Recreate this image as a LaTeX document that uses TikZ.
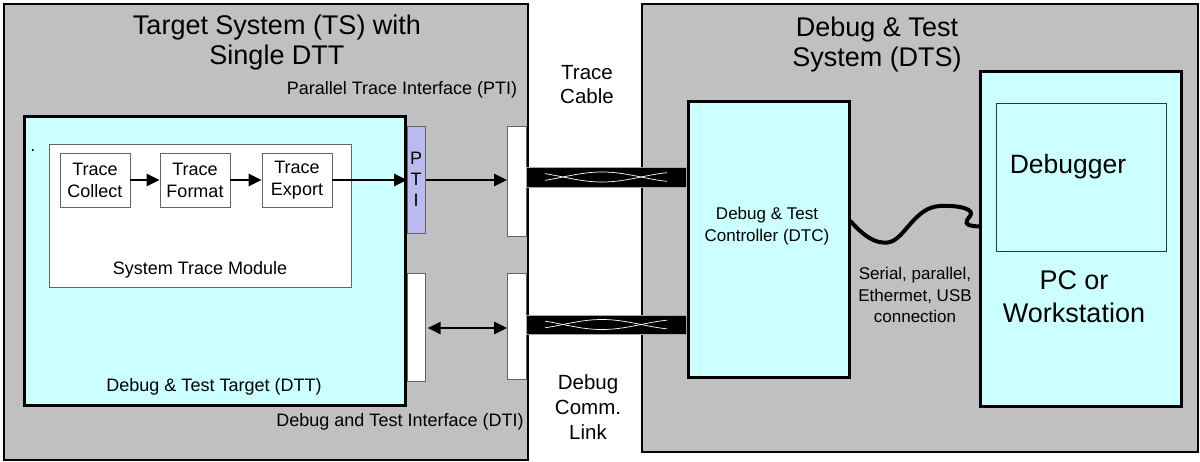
\documentclass[tikz,border=0pt]{standalone}
\usepackage{fontspec}
\setmainfont{Liberation Sans}
\usetikzlibrary{arrows.meta}
\definecolor{bggray}{RGB}{192,192,192}
\definecolor{lcyan}{RGB}{204,255,255}
\definecolor{lav}{RGB}{186,186,240}
\definecolor{edgegray}{RGB}{100,100,100}
\begin{document}
\begin{tikzpicture}[x=1pt,y=-1pt,
  box/.style={draw, inner sep=0pt, anchor=north west},
  bigbox/.style={box, line width=2pt},
  thickbox/.style={box, line width=2.8pt, fill=lcyan},
  thinbox/.style={draw=edgegray, line width=0.9pt, inner sep=0pt},
  lbl/.style={inner sep=0pt, align=center},
  arr/.style={line width=2.8pt, -{Triangle[length=13pt,width=12pt]}},
  darr/.style={line width=2.8pt, {Triangle[length=13pt,width=12pt]}-{Triangle[length=13pt,width=12pt]}},
  twist/.style={white, line width=0.7pt}
]
\useasboundingbox (0,0) rectangle (1200,461);
\fill[white] (0,0) rectangle (1200,461);

% outer systems
\node[bigbox, fill=bggray, minimum width=524pt, minimum height=456pt] (ts) at (3,3) {};
\node[bigbox, fill=bggray, minimum width=556pt, minimum height=448pt] (dts) at (641,3) {};

% titles
\node[lbl, font=\fontsize{27}{30}\selectfont] (tstitle) at (277,43) {Target System (TS) with\\Single DTT};
\node[lbl, font=\fontsize{27}{30}\selectfont] (dtstitle) at (877,45) {Debug \& Test\\System (DTS)};

% DTT
\node[thickbox, minimum width=381pt, minimum height=289pt] (dtt) at (23,115) {};
\node[box, fill=white, draw=edgegray, line width=0.9pt, minimum width=302pt, minimum height=143pt] (stm) at (49,144) {};
\node[lbl, font=\fontsize{18}{20}\selectfont] (stmlbl) at (200,270) {System Trace Module};
\node[lbl, font=\fontsize{18}{20}\selectfont] (dttlbl) at (214,387) {Debug \& Test Target (DTT)};
\node[lbl, font=\fontsize{18}{20}\selectfont] (dot) at (33,151) {.};

\node[thinbox, fill=white, minimum width=70pt, minimum height=54pt, align=center, font=\fontsize{18}{22}\selectfont] (tc) at (95,180) {Trace\\Collect};
\node[thinbox, fill=white, minimum width=70pt, minimum height=54pt, align=center, font=\fontsize{18}{22}\selectfont] (tf) at (195,180) {Trace\\Format};
\node[thinbox, fill=white, minimum width=70pt, minimum height=54pt, align=center, font=\fontsize{18}{22}\selectfont] (te) at (297,180) {Trace\\Export};

% interfaces
\node[box, fill=lav, draw=edgegray, line width=0.6pt, minimum width=18pt, minimum height=107pt] (pti) at (407,126) {};
\node[lbl, font=\fontsize{18}{21}\selectfont] (ptitxt) at (416,179) {P\\T\\I};
\node[box, fill=white, draw=edgegray, line width=0.6pt, minimum width=18pt, minimum height=108pt] (dti) at (407,273) {};
\node[box, fill=white, draw=edgegray, line width=0.6pt, minimum width=19pt, minimum height=110pt] (con1) at (507,126) {};
\node[box, fill=white, draw=edgegray, line width=0.6pt, minimum width=19pt, minimum height=106pt] (con2) at (507,273) {};

\node[lbl, font=\fontsize{18}{20}\selectfont] (ptilbl) at (402,90) {Parallel Trace Interface (PTI)};
\node[lbl, font=\fontsize{18}{20}\selectfont] (dtilbl) at (400,422) {Debug and Test Interface (DTI)};

% arrows inside
\draw[arr] (tc.east) -- (tf.west);
\draw[arr] (tf.east) -- (te.west);
\draw[arr] (te.east) -- (te.east -| pti.west);
\draw[arr] (pti.east |- te.east) -- (con1.west |- te.east);
\draw[darr] ([xshift=2pt]dti.east |- 0,328) -- (con2.west |- 0,328);

% cables
\node[box, fill=black, draw=gray!70, line width=0.5pt, minimum width=160pt, minimum height=20pt] (cab1) at (526,167) {};
\node[box, fill=black, draw=gray!70, line width=0.5pt, minimum width=160pt, minimum height=19pt] (cab2) at (526,315) {};
\draw[twist] plot[domain=545:667, samples=60] (\x, {177+5*sin((\x-563)/78*180)});
\draw[twist] plot[domain=545:667, samples=60] (\x, {177-5*sin((\x-563)/78*180)});
\draw[twist] plot[domain=545:667, samples=60] (\x, {324.5+5*sin((\x-563)/78*180)});
\draw[twist] plot[domain=545:667, samples=60] (\x, {324.5-5*sin((\x-563)/78*180)});

\node[lbl, font=\fontsize{20.5}{24}\selectfont] (cablelbl) at (587,85) {Trace\\Cable};
\node[lbl, font=\fontsize{20.5}{25}\selectfont] (linklbl) at (588,407) {Debug\\Comm.\\Link};

% DTS contents
\node[thickbox, minimum width=161pt, minimum height=276pt] (dtc) at (687,100) {};
\node[lbl, font=\fontsize{17}{22}\selectfont] (dtctxt) at (767,226) {Debug \& Test\\Controller (DTC)};
\node[thickbox, minimum width=201pt, minimum height=335pt] (pc) at (979,70) {};
\node[box, fill=lcyan, draw=black!80, line width=0.9pt, minimum width=170pt, minimum height=148pt] (dbg) at (996,103) {};
\node[lbl, font=\fontsize{26.5}{30}\selectfont] (dbgtxt) at (1068,167) {Debugger};
\node[lbl, font=\fontsize{27}{33}\selectfont] (pctxt) at (1074,297) {PC or\\Workstation};
\node[lbl, font=\fontsize{17}{21.5}\selectfont] (serial) at (915,295) {Serial, parallel,\\Ethermet, USB\\connection};

% host cable
\draw[line width=4pt, line cap=round] ([yshift=18pt]dtc.east) .. controls (860,232) and (875,246) .. (890,242)
  .. controls (905,238) and (915,207) .. (940,206)
  .. controls (962,205) and (975,210) .. (970,216)
  .. controls (966,221) and (962,226) .. ([yshift=12.5pt]pc.west);
\end{tikzpicture}
\end{document}
